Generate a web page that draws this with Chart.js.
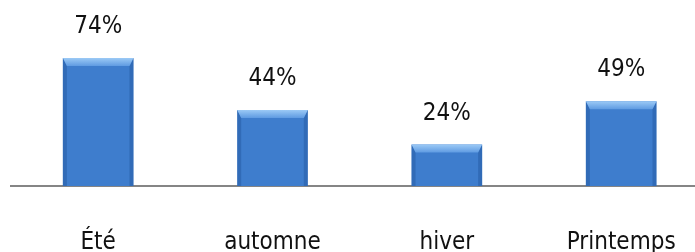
<!DOCTYPE html>
<html>
<head>
<meta charset="utf-8">
<script src="https://cdn.jsdelivr.net/npm/chart.js@4"></script>
<style>
  html, body { margin: 0; padding: 0; background: #fff; overflow: hidden; }
  #cadre { width: 695px; height: 252px; overflow: hidden; }
  #grafico { display: block; }
</style>
</head>
<body>
<div id="cadre"><canvas id="grafico" width="718" height="252"></canvas></div>
<script>
// Données du graphique
const saisons = ['Été', 'automne', 'hiver', 'Printemps'];
const pourcentages = [74, 44, 24, 49];

const police = "'Liberation Sans Narrow', 'DejaVu Sans Condensed', sans-serif";

// Effet biseauté sur le haut et les côtés des barres
const biseau = {
  id: 'biseau',
  afterDatasetsDraw(chart) {
    const ctx = chart.ctx;
    chart.getDatasetMeta(0).data.forEach(function(bar, i) {
      const g = bar.x - bar.width / 2, d = bar.x + bar.width / 2;
      const h = bar.y, b = bar.base;
      const e = 8, s = 4;
      ctx.save();
      // côtés
      ctx.fillStyle = 'rgba(30, 80, 150, 0.4)';
      ctx.beginPath();
      ctx.moveTo(g, h); ctx.lineTo(g + s, h + e); ctx.lineTo(g + s, b); ctx.lineTo(g, b);
      ctx.closePath(); ctx.fill();
      ctx.beginPath();
      ctx.moveTo(d, h); ctx.lineTo(d - s, h + e); ctx.lineTo(d - s, b); ctx.lineTo(d, b);
      ctx.closePath(); ctx.fill();
      // haut
      const grad = ctx.createLinearGradient(0, h, 0, h + e);
      grad.addColorStop(0, '#9ccaf6');
      grad.addColorStop(1, '#5f9be2');
      ctx.fillStyle = grad;
      ctx.beginPath();
      ctx.moveTo(g, h); ctx.lineTo(d, h); ctx.lineTo(d - s, h + e); ctx.lineTo(g + s, h + e);
      ctx.closePath(); ctx.fill();
      // valeur au-dessus
      ctx.fillStyle = '#111';
      ctx.font = '24px ' + police;
      ctx.textAlign = 'center';
      ctx.textBaseline = 'middle';
      ctx.fillText(pourcentages[i] + '%', bar.x, h - 31);
      ctx.restore();
    });
  }
};

const ctx = document.getElementById('grafico').getContext('2d');
new Chart(ctx, {
  type: 'bar',
  data: {
    labels: saisons,
    datasets: [{
      data: pourcentages,
      backgroundColor: '#3e7dcd',
      borderWidth: 0,
      barPercentage: 0.405,
      categoryPercentage: 1
    }]
  },
  options: {
    responsive: false,
    animation: false,
    layout: { padding: { left: 11, right: 3, top: 13, bottom: 0 } },
    plugins: { legend: { display: false }, tooltip: { enabled: false } },
    scales: {
      x: {
        grid: { display: false, drawTicks: false },
        border: { display: true, color: '#858585', width: 2 },
        ticks: { color: '#111', padding: 42, maxRotation: 0, font: { family: police, size: 24 } },
        afterFit: function(scale) { scale.height = 66; }
      },
      y: {
        display: false,
        min: 0,
        max: 100
      }
    }
  },
  plugins: [biseau]
});
</script>
</body>
</html>
